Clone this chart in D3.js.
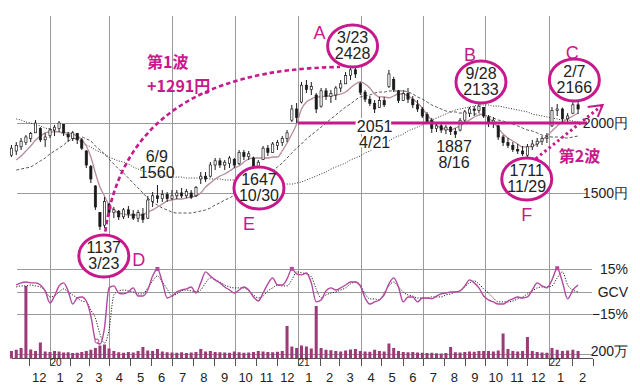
<!DOCTYPE html>
<html>
<head>
<meta charset="utf-8">
<script src="https://cdn.jsdelivr.net/npm/d3@7"></script>
<style>
  body { margin: 0; background: #fff; }
  svg { display: block; font-family: "Liberation Sans Narrow", "Liberation Sans", Arial, sans-serif; }
</style>
</head>
<body>
<div id="chart"></div>
<script>
// weekly bars, Mon 2019-11-04 .. Mon 2022-02-07 (119 weeks)
const candles = [ // [open, high, low, close] yen
  [1770,1843,1757,1820],[1800,1864,1771,1840],[1830,1893,1807,1870],[1860,1914,1843,1900],[1890,1936,1864,1925],
  [1930,2021,1929,2000],[1960,1971,1864,1880],[1880,1929,1829,1900],[1910,1964,1893,1950],
  [1950,1986,1907,1970],[1960,2014,1936,2000],[1990,1993,1907,1930],[1920,1936,1864,1900],[1890,1943,1871,1930],
  [1925,1929,1850,1880],[1880,1893,1807,1820],[1800,1807,1679,1700],[1690,1700,1571,1600],[1550,1557,1379,1400],
  [1360,1364,1236,1260],[1270,1471,1250,1440],[1420,1429,1336,1360],
  [1360,1400,1321,1380],[1370,1379,1307,1330],[1330,1393,1314,1380],[1380,1407,1321,1350],[1350,1379,1307,1320],
  [1320,1379,1293,1360],[1350,1393,1286,1310],[1320,1479,1314,1450],[1440,1507,1400,1480],[1480,1557,1429,1460],
  [1460,1521,1436,1490],[1490,1507,1436,1460],[1460,1521,1450,1480],
  [1480,1521,1457,1500],[1500,1536,1464,1480],[1480,1529,1464,1510],[1500,1521,1457,1470],[1480,1550,1471,1540],
  [1600,1650,1564,1620],[1620,1650,1579,1600],[1620,1721,1610,1700],[1700,1750,1664,1730],[1730,1750,1679,1700],
  [1700,1736,1664,1720],[1710,1764,1679,1750],[1740,1750,1679,1700],
  [1710,1807,1700,1790],[1790,1807,1736,1760],[1760,1800,1736,1780],[1750,1760,1679,1690],[1680,1736,1664,1720],
  [1740,1836,1735,1820],[1820,1843,1764,1790],[1790,1864,1786,1850],[1840,1879,1807,1860],[1860,1907,1836,1890],
  [1890,1950,1864,1930],[2020,2129,2007,2100],[2100,2143,2000,2040],
  [2150,2293,2140,2270],[2270,2307,2214,2240],[2240,2293,2200,2260],[2200,2214,2071,2100],[2120,2250,2110,2230],
  [2230,2250,2164,2190],[2190,2236,2143,2210],[2200,2264,2164,2250],[2250,2307,2221,2280],[2280,2364,2279,2340],
  [2340,2407,2307,2380],[2380,2429,2321,2350],[2280,2293,2200,2220],
  [2220,2236,2150,2170],[2170,2193,2121,2140],[2140,2164,2071,2100],[2110,2186,2107,2160],[2160,2186,2114,2130],
  [2260,2379,2250,2350],[2310,2330,2221,2240],[2230,2236,2143,2160],[2160,2236,2157,2210],[2210,2250,2143,2170],
  [2170,2193,2107,2130],[2130,2164,2079,2100],[2100,2114,2036,2050],
  [2060,2079,1993,2010],[2020,2036,1929,1960],[1960,2000,1936,1980],[1980,1993,1929,1950],[1950,1986,1921,1970],
  [1970,1979,1914,1940],[1940,1964,1893,1920],[1950,2036,1940,2020],[2020,2093,2007,2080],[2070,2114,2043,2100],
  [2100,2121,2050,2090],[2090,2150,2071,2120],[2110,2114,2036,2050],
  [2040,2057,1971,2000],[2000,2043,1964,2020],[1980,1986,1879,1900],[1900,1914,1836,1860],[1860,1893,1821,1840],
  [1840,1864,1793,1810],[1810,1850,1779,1800],[1800,1836,1764,1780],[1770,1850,1750,1830],[1830,1879,1807,1850],
  [1850,1893,1829,1870],[1870,1907,1843,1890],[1890,1929,1857,1900],
  [1980,2114,1971,2090],[2090,2136,2050,2100],[2100,2110,2007,2030],[2030,2071,1993,2050],[2070,2150,2064,2130],
  [2130,2164,2064,2100]
];

const volume = [ // 万株
  300,350,420,2900,360,300,640,280,260,
  300,280,240,250,220,230,260,300,350,420,520,560,400,
  300,250,230,260,240,300,460,320,300,380,280,250,240,
  230,250,220,240,260,380,280,300,260,250,240,230,280,
  250,230,240,260,300,280,260,250,270,300,1300,480,420,
  520,480,400,2100,420,350,330,300,280,320,360,380,300,
  280,270,350,300,280,600,420,300,260,250,260,240,230,
  220,230,210,200,220,460,250,240,260,280,270,300,300,
  300,280,320,1000,380,300,280,300,860,300,260,240,230,
  420,350,300,320,350,300
];

const maShort = [
  null,1736,1764,1800,1836,1879,1907,1929,1936,
  1936,1936,1929,1929,1921,1907,1879,1836,1757,1643,1543,1479,1414,
  1379,1357,1350,1343,1343,1343,1343,1364,1379,1400,1421,1443,1450,
  1457,1457,1464,1471,1479,1500,1543,1571,1600,1621,1636,1657,1679,
  1693,1721,1743,1750,1750,1750,1750,1757,1757,1800,1857,1921,1993,
  2100,2150,2171,2186,2186,2193,2193,2200,2207,2221,2250,2279,2293,
  2279,2250,2207,2186,2186,2179,2193,2207,2207,2193,2171,2143,2107,
  2057,2021,1986,1964,1957,1950,1964,1979,2000,2021,2043,2057,2064,
  2036,2007,1964,1921,1893,1871,1850,1829,1829,1836,1850,1879,1907,
  1943,1979,2007,2029,2050,2071
];

const maMid = [
  null,1664,1671,1679,1686,1707,1729,1750,1779,
  1800,1821,1843,1871,1886,1893,1900,1886,1871,1836,1807,1779,1743,
  1707,1671,1643,1607,1571,1536,1500,1464,1436,1414,1393,1379,1364,
  1357,1357,1357,1357,1364,1371,1379,1393,1414,1429,1450,1464,1486,
  1500,1514,1529,1550,1571,1600,1621,1657,1686,1714,1750,1786,1821,
  1850,1886,1914,1943,1971,2000,2029,2057,2086,2114,2136,2164,2186,
  2193,2200,2214,2221,2221,2229,2229,2229,2229,2221,2207,2186,2171,
  2150,2129,2114,2100,2086,2079,2079,2071,2071,2071,2064,2064,2057,
  2050,2036,2021,2014,2000,1993,1979,1964,1950,1943,1929,1914,1907,
  1900,1900,1893,1893,1900,1907
];

const maLong = [
  null,2029,2021,2007,2000,1986,1979,1964,1957,
  1943,1936,1921,1914,1900,1879,1864,1843,1829,1807,1793,1779,1757,
  1743,1729,1721,1707,1686,1671,1657,1650,1643,1629,1621,1621,1614,
  1614,1614,1607,1607,1607,1607,1607,1600,1600,1600,1593,1593,1593,
  1586,1586,1579,1579,1571,1571,1571,1564,1564,1564,1564,1564,1571,
  1579,1593,1607,1621,1636,1650,1671,1686,1700,1714,1736,1750,1764,
  1786,1800,1821,1836,1857,1871,1893,1907,1921,1943,1957,1971,1986,
  2007,2021,2036,2050,2064,2079,2093,2100,2107,2114,2121,2129,2129,
  2129,2121,2121,2114,2107,2100,2093,2086,2079,2064,2057,2050,2043,
  2036,2029,2021,2021,2014,2007
];

const gcv = [ // %
  null,4.4,5.8,6.4,5.8,5.8,4.4,0.5,-7.5,
  -2.9,3.8,5.8,0.5,-8.2,-4.2,-3.5,-6.2,-16.1,-32.1,-34.7,-24.1,2.5,
  3.8,-0.9,-1.5,-0.2,2.5,-2.9,-2.9,1.1,10.4,15.0,6.4,-4.2,-2.9,
  -0.2,1.1,1.8,3.1,-0.9,5.8,13.1,10.4,7.8,5.8,3.1,1.1,-0.9,
  1.1,3.1,1.1,-3.5,-6.2,-0.9,5.1,9.1,4.4,4.4,8.4,15.1,11.8,
  11.1,12.4,5.8,-6.8,-5.5,0.5,2.5,1.1,2.5,4.4,6.4,6.4,3.8,
  -4.2,-8.2,-6.8,-5.5,-2.2,5.1,9.1,3.1,-6.8,-3.5,-3.5,-6.8,-4.2,
  -4.2,-4.8,-2.9,-1.5,-0.9,-0.2,-0.2,0.5,3.8,7.8,5.8,2.5,-2.9,
  -5.5,-6.8,-8.2,-8.2,-6.2,-4.8,-3.5,-4.2,-3.5,1.1,5.8,3.8,2.5,
  7.8,15.5,6.4,-4.8,1.1,4.4
];

const gcvSignal = [
  null,3.1,3.8,3.8,4.4,3.8,3.1,0.5,-3.5,
  -2.9,-0.2,1.8,-0.2,-2.2,-4.2,-6.2,-6.8,-12.2,-17.4,-28.1,-34.0,-25.4,
  -2.2,0.5,1.1,0.5,-0.2,-1.5,-1.5,2.5,7.1,10.4,6.4,1.8,-2.9,
  -1.5,0.5,1.1,0.5,-0.2,1.1,5.8,9.1,7.8,6.4,4.4,3.1,2.5,
  2.5,2.5,0.5,-2.2,-4.2,-2.9,0.5,2.5,4.4,3.8,3.8,7.8,13.1,
  12.4,11.8,9.8,1.8,-4.2,-2.2,-0.9,-0.2,1.1,2.5,5.1,6.4,4.4,
  -1.5,-4.8,-4.8,-5.5,-0.9,3.8,6.4,3.1,-0.2,-2.2,-2.9,-4.2,-4.2,
  -4.2,-3.5,-3.5,-3.5,-2.2,-1.5,-0.2,0.5,3.1,5.8,7.1,5.1,1.8,
  -0.9,-4.2,-6.8,-6.8,-6.8,-6.2,-4.8,-3.5,-1.5,0.5,2.5,3.1,3.1,
  3.8,9.1,13.1,4.4,1.1,-0.2
];

const gcvPeakWeeks = [31, 59, 114];  // small squares on GCV highs
const gcvLowWeeks = [19];            // small ring on GCV low

const priceTicks = [2000, 1500];
const gcvTicks = [15, 0, -15];
const volTicks = [200];

const W = 640, H = 389;
const magenta = "#c8198c";
const parse = d3.timeParse("%Y-%m-%d");

const weeks = d3.timeMonday.range(new Date(2019, 10, 4), new Date(2022, 1, 8));
const rows = weeks.map((d, i) => ({
  date: d3.timeDay.offset(d, 2),
  o: candles[i][0], h: candles[i][1], l: candles[i][2], c: candles[i][3],
  vol: volume[i], s: maShort[i], m: maMid[i], lg: maLong[i], g: gcv[i], gs: gcvSignal[i]
}));

// months are not evenly spaced on the original, so pin quarter starts
const x = d3.scaleTime()
  .domain(["2019-11-01","2020-01-01","2020-04-01","2020-07-01","2020-10-01","2021-01-01",
           "2021-04-01","2021-07-01","2021-10-01","2022-01-01","2022-03-01"].map(parse))
  .range([8, 50, 109, 172, 235, 298, 361, 423, 485, 549, 593]);
const yP = d3.scaleLinear().domain([1500, 2000]).range([193, 123]);
const yG = d3.scaleLinear().domain([-15, 15]).range([314.3, 269]);
const yV = d3.scaleLinear().domain([0, 200]).range([358.5, 353.5]);
const P = (ds, v) => [x(parse(ds)), yP(v)];

const svg = d3.select("#chart").append("svg").attr("width", W).attr("height", H);

// ---- grid
const grid = svg.append("g").attr("stroke", "#9a9a9a").attr("stroke-width", 1);
const quarters = d3.timeMonth.every(3).range(new Date(2020, 0, 1), new Date(2022, 0, 2));
grid.selectAll("line.v").data(quarters).join("line")
  .attr("x1", d => Math.round(x(d)) + 0.5).attr("x2", d => Math.round(x(d)) + 0.5)
  .attr("y1", 16).attr("y2", 358.5);
grid.selectAll("line.p").data(priceTicks).join("line")
  .attr("x1", 17).attr("x2", 587)
  .attr("y1", d => Math.round(yP(d)) + 0.5).attr("y2", d => Math.round(yP(d)) + 0.5);
grid.selectAll("line.g").data(gcvTicks).join("line")
  .attr("x1", 17).attr("x2", 592)
  .attr("y1", d => Math.round(yG(d)) + 0.5).attr("y2", d => Math.round(yG(d)) + 0.5);
grid.selectAll("line.vo").data(volTicks).join("line")
  .attr("x1", 17).attr("x2", 592)
  .attr("y1", d => Math.round(yV(d)) + 0.5).attr("y2", d => Math.round(yV(d)) + 0.5);

// ---- volume
svg.append("g").selectAll("rect").data(rows).join("rect")
  .attr("x", d => x(d.date) - 1.5).attr("width", 3)
  .attr("y", d => yV(d.vol)).attr("height", d => yV(0) - yV(d.vol))
  .attr("fill", "#9a3a77");

// ---- GCV
const gLine = key => d3.line().defined(d => d[key] != null)
  .x(d => x(d.date)).y(d => yG(d[key])).curve(d3.curveMonotoneX);
svg.append("path").datum(rows).attr("d", gLine("gs"))
  .attr("fill", "none").attr("stroke", "#222").attr("stroke-width", 1).attr("stroke-dasharray", "1.2,1.5");
svg.append("path").datum(rows).attr("d", gLine("g"))
  .attr("fill", "none").attr("stroke", "#b4479f").attr("stroke-width", 1.4);
svg.append("g").selectAll("rect").data(gcvPeakWeeks).join("rect")
  .attr("x", i => x(rows[i].date) - 2).attr("y", i => yG(rows[i].g) - 2)
  .attr("width", 4).attr("height", 4).attr("fill", "#b4479f");
svg.append("g").selectAll("circle").data(gcvLowWeeks).join("circle")
  .attr("cx", i => x(rows[i].date) - 3).attr("cy", i => yG(rows[i].g) - 3).attr("r", 2)
  .attr("fill", "#fff").attr("stroke", "#b4479f");

// ---- axis
const axis = svg.append("g");
axis.append("line").attr("x1", 12).attr("x2", 593).attr("y1", 358.5).attr("y2", 358.5)
  .attr("stroke", "#555");
const months = d3.timeMonth.range(new Date(2019, 11, 1), new Date(2022, 2, 2));
axis.selectAll("line.t").data(months).join("line")
  .attr("x1", d => Math.round(x(d)) + 0.5).attr("x2", d => Math.round(x(d)) + 0.5)
  .attr("y1", 359).attr("y2", 366).attr("stroke", "#555");
axis.selectAll("text.m").data(months.slice(0, -1)).join("text")
  .attr("x", d => (x(d) + x(d3.timeMonth.offset(d, 1))) / 2).attr("y", 382)
  .attr("text-anchor", "middle").attr("font-size", 13).attr("fill", "#222")
  .text(d => d.getMonth() + 1);
axis.selectAll("text.y").data(months.filter(d => d.getMonth() === 0)).join("text")
  .attr("x", d => x(d) + 6).attr("y", 366)
  .attr("text-anchor", "middle").attr("font-size", 10).attr("fill", "#222")
  .text(d => String(d.getFullYear()).slice(2));

// ---- moving averages
const maLine = key => d3.line().defined(d => d[key] != null)
  .x(d => x(d.date)).y(d => yP(d[key])).curve(d3.curveMonotoneX);
svg.append("path").datum(rows).attr("d", maLine("lg"))
  .attr("fill", "none").attr("stroke", "#333").attr("stroke-width", 1).attr("stroke-dasharray", "1,1.6");
svg.append("path").datum(rows).attr("d", maLine("m"))
  .attr("fill", "none").attr("stroke", "#444").attr("stroke-width", 0.9).attr("stroke-dasharray", "3,2");
svg.append("path").datum(rows).attr("d", maLine("s"))
  .attr("fill", "none").attr("stroke", "#b58c9d").attr("stroke-width", 1.3);

// ---- candles
const cg = svg.append("g");
cg.selectAll("line").data(rows).join("line")
  .attr("x1", d => x(d.date)).attr("x2", d => x(d.date))
  .attr("y1", d => yP(d.h)).attr("y2", d => yP(d.l))
  .attr("stroke", "#1a1a1a").attr("stroke-width", 1);
cg.selectAll("rect").data(rows).join("rect")
  .attr("x", d => x(d.date) - 1.1).attr("width", 2.2)
  .attr("y", d => yP(Math.max(d.o, d.c)))
  .attr("height", d => Math.max(1, Math.abs(yP(d.o) - yP(d.c))))
  .attr("fill", d => d.c >= d.o ? "#fff" : "#1a1a1a")
  .attr("stroke", "#1a1a1a").attr("stroke-width", 0.7);

// ---- 2000 yen line
const [lx1, ly] = P("2021-01-01", 2000);
const [lx2] = P("2022-02-21", 2000);
svg.append("line").attr("x1", lx1).attr("x2", lx2).attr("y1", ly).attr("y2", ly)
  .attr("stroke", magenta).attr("stroke-width", 3);

// ---- right labels
const rl = svg.append("g").attr("text-anchor", "end").attr("fill", "#222").attr("font-size", 14)
  .attr("dominant-baseline", "central");
rl.selectAll("text.p").data(priceTicks).join("text")
  .attr("x", 628).attr("y", d => yP(d)).text(d => d + "円");
rl.selectAll("text.g").data(gcvTicks).join("text")
  .attr("x", 628).attr("y", d => yG(d)).text(d => d === 0 ? "GCV" : (d > 0 ? d + "%" : "−" + Math.abs(d) + "%"));
rl.selectAll("text.v").data(volTicks).join("text")
  .attr("x", 628).attr("y", d => yV(d) - 3).text(d => d + "万");

// ---- first wave arc
const [a0x, a0y] = P("2020-03-25", 1170);
const [a1x, a1y] = P("2021-03-02", 2400);
const [acx, acy] = P("2020-04-19", 2379);
const arc = d3.path();
arc.moveTo(a0x, a0y);
arc.quadraticCurveTo(acx, acy, a1x, a1y);
svg.append("path").attr("d", arc.toString()).attr("fill", "none")
  .attr("stroke", magenta).attr("stroke-width", 2.6).attr("stroke-dasharray", "4.5,3");

// ---- second wave arrow
const [b0x, b0y] = P("2021-12-07", 1721);
const [b1x, b1y] = P("2022-03-14", 2129);
svg.append("line").attr("x1", b0x).attr("y1", b0y).attr("x2", b1x).attr("y2", b1y)
  .attr("stroke", magenta).attr("stroke-width", 3).attr("stroke-dasharray", "2.5,3");
svg.append("path").attr("d", `M${b1x - 15},${b1y + 2}L${b1x},${b1y}L${b1x - 5},${b1y + 12}`)
  .attr("fill", "none").attr("stroke", magenta).attr("stroke-width", 2);

// multi-line helper: one <text>, one <tspan> per line
function lines(sel, step) {
  sel.selectAll("tspan").data(d => d.lines).join("tspan")
    .attr("x", function () { return d3.select(this.parentNode).attr("x"); })
    .attr("dy", (t, i) => i === 0 ? 0 : step)
    .text(t => t);
}

// ---- plain labels
const plain = [
  { date: "2020-06-09", price: 1757, lines: ["6/9", "1560"] },
  { date: "2021-04-21", price: 1971, lines: ["2051", "4/21"], halo: true },
  { date: "2021-08-16", price: 1829, lines: ["1887", "8/16"] }
];
svg.append("g").selectAll("text").data(plain).join("text")
  .attr("x", d => x(parse(d.date))).attr("y", d => yP(d.price) + 5)
  .attr("text-anchor", "middle")
  .attr("font-size", 16).attr("fill", "#222")
  .attr("stroke", d => d.halo ? "#fff" : null).attr("stroke-width", d => d.halo ? 4 : null)
  .attr("paint-order", "stroke")
  .call(lines, 16);

// ---- circled extremes
const circled = [
  { key: "A", date: "2021-03-20", price: 2550, lines: ["3/23", "2428"], ldx: -33, ldy: -13 },
  { key: "B", date: "2021-09-25", price: 2293, lines: ["9/28", "2133"], ldx: -11, ldy: -27 },
  { key: "C", date: "2022-02-04", price: 2307, lines: ["2/7", "2166"], ldx: -2, ldy: -27 },
  { key: "D", date: "2020-03-24", price: 1050, lines: ["1137", "3/23"], ldx: 35, ldy: 4 },
  { key: "E", date: "2020-11-05", price: 1536, lines: ["1647", "10/30"], ldx: -10, ldy: 36 },
  { key: "F", date: "2021-11-30", price: 1600, lines: ["1711", "11/29"], ldx: 0, ldy: 36 }
];
const cgr = svg.append("g").selectAll("g").data(circled).join("g")
  .attr("transform", d => `translate(${x(parse(d.date))},${yP(d.price)})`);
cgr.append("ellipse").attr("rx", 25).attr("ry", 21)
  .attr("fill", "#fff").attr("stroke", magenta).attr("stroke-width", 3);
cgr.append("text").attr("x", 0).attr("y", -3)
  .attr("text-anchor", "middle").attr("font-size", 16).attr("fill", "#222")
  .call(lines, 16);
cgr.append("text").attr("x", d => d.ldx).attr("y", d => d.ldy)
  .attr("text-anchor", "middle").attr("dominant-baseline", "central")
  .attr("font-family", "Liberation Sans, Arial, sans-serif")
  .attr("font-size", 18).attr("fill", magenta).text(d => d.key);

// ---- wave captions (separate texts, spaced so the tall CJK line boxes do not collide)
const waves = [
  { date: "2020-05-26", price: 2443, text: "第1波", anchor: "start" },
  { date: "2020-05-26", price: 2271, text: "+1291円", anchor: "start" },
  { date: "2022-02-11", price: 1771, text: "第2波", anchor: "middle" }
];
svg.append("g").selectAll("text").data(waves).join("text")
  .attr("x", d => x(parse(d.date))).attr("y", d => yP(d.price))
  .attr("text-anchor", d => d.anchor).attr("dominant-baseline", "central")
  .attr("font-family", "'Noto Sans CJK JP', 'Noto Sans', sans-serif")
  .attr("font-weight", "bold").attr("font-size", 16).attr("fill", magenta)
  .text(d => d.text);
</script>
</body>
</html>
